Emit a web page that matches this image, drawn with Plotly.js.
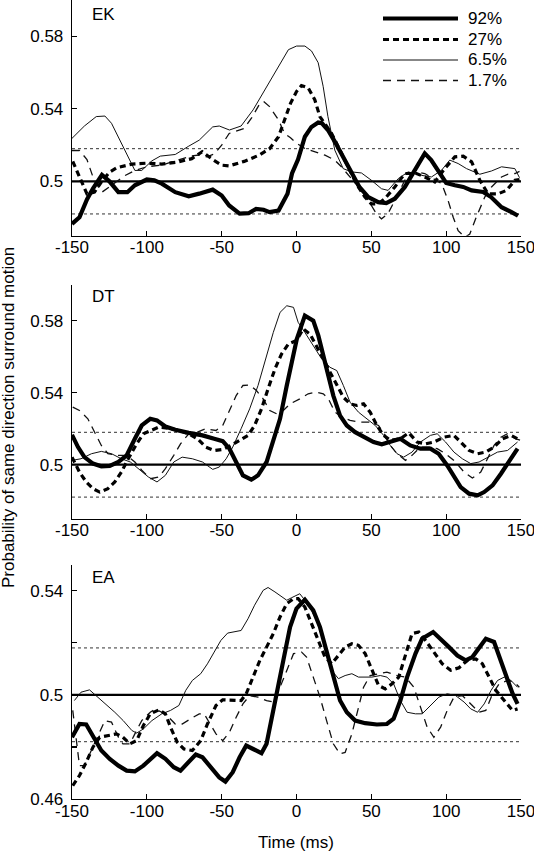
<!DOCTYPE html>
<html>
<head>
<meta charset="utf-8">
<script src="https://cdn.plot.ly/plotly-3.0.1.min.js"></script>
<style>
  html, body { margin: 0; padding: 0; background: #fff; }
  #chart { width: 534px; height: 852px; }
</style>
</head>
<body>
<div id="chart"></div>
<script>
// ---------- DATA (time in ms, probability) ----------
const seriesNames = ['92%', '27%', '6.5%', '1.7%'];
const panelNames = ['EK', 'DT', 'EA'];
const xTicks = [-150, -100, -50, 0, 50, 100, 150];
const refCenter = 0.5;
const refBand = [0.482, 0.518];

// EK
const ek92 = [[-150,0.4765],[-145,0.4802],[-140,0.490],[-136,0.496],[-130,0.5035],[-125,0.500],[-119,0.494],[-113,0.494],[-108,0.4978],[-100,0.501],[-95,0.5005],[-90,0.4987],[-81,0.494],[-72,0.4917],[-65,0.4932],[-56,0.4954],[-50,0.4922],[-45,0.4867],[-38,0.4822],[-32,0.4824],[-27,0.4848],[-22,0.4843],[-18,0.483],[-12,0.4839],[-6,0.4932],[-3,0.5043],[1,0.512],[5.6,0.5246],[10,0.530],[14.5,0.5324],[17,0.532],[21,0.5283],[25.6,0.5219],[31,0.5135],[36.7,0.5043],[42,0.4969],[48,0.4913],[54.6,0.4885],[60,0.488],[65.7,0.4904],[72.4,0.4969],[79,0.5061],[85.7,0.5154],[90,0.5117],[95.8,0.5043],[100,0.4991],[105.8,0.4978],[111.4,0.4969],[117,0.495],[124.7,0.4941],[130,0.4913],[137,0.4857],[143.7,0.483],[148,0.481]];
const ek27 = [[-149.5,0.511],[-145,0.502],[-140,0.493],[-135,0.494],[-130,0.500],[-125,0.505],[-120,0.5075],[-110,0.5095],[-100,0.510],[-90,0.5095],[-80,0.5105],[-70,0.5125],[-63,0.5163],[-56,0.512],[-50,0.5089],[-45,0.5085],[-35,0.511],[-25,0.5144],[-18,0.518],[-12,0.5246],[-8,0.5338],[-4,0.543],[0,0.5495],[3.3,0.5528],[7.8,0.5515],[12.2,0.545],[15.6,0.5357],[18.9,0.532],[23.4,0.5265],[29,0.5172],[34.5,0.508],[40,0.4987],[45.7,0.4913],[50,0.4876],[54.6,0.4876],[59,0.4904],[65.7,0.4969],[72.4,0.5043],[80.2,0.5043],[85.7,0.5024],[92.4,0.4996],[99,0.507],[105.8,0.5135],[111.4,0.5139],[117,0.5107],[122.5,0.5006],[128,0.4931],[134.7,0.4931],[140.3,0.495],[146,0.5006],[149,0.501]];
const ek65 = [[-150,0.5237],[-141.7,0.5305],[-133.8,0.5357],[-128,0.536],[-123.6,0.532],[-117,0.5209],[-111.3,0.5107],[-108,0.506],[-103.4,0.506],[-96.6,0.5113],[-91,0.5139],[-81,0.5148],[-72,0.5194],[-65,0.5227],[-56,0.530],[-51.6,0.5305],[-44.8,0.5283],[-37,0.5305],[-29,0.5394],[-20,0.5523],[-11,0.5652],[-5.4,0.5726],[0,0.5746],[5.6,0.5746],[10,0.5719],[14.5,0.5654],[17.8,0.5524],[21,0.5357],[25.6,0.5172],[31.2,0.507],[36.7,0.5052],[43.4,0.5046],[50,0.5006],[56.8,0.4959],[61.2,0.495],[68,0.5015],[74.6,0.5052],[83.5,0.5033],[90.2,0.5024],[96.9,0.5061],[102.4,0.5117],[108,0.5098],[113.6,0.507],[122.5,0.5039],[130.3,0.5057],[137,0.508],[145.9,0.507],[149,0.502]];
const ek17 = [[-150,0.517],[-145,0.517],[-140,0.512],[-135,0.500],[-130,0.494],[-125,0.497],[-120,0.500],[-115,0.503],[-108,0.506],[-100,0.508],[-90,0.509],[-80,0.5115],[-70,0.514],[-65,0.5145],[-60,0.5135],[-55,0.515],[-50,0.520],[-45,0.5264],[-40,0.528],[-35,0.5292],[-30,0.535],[-25,0.5421],[-22,0.544],[-18,0.5412],[-12,0.5338],[-8,0.5264],[-4,0.524],[0,0.521],[5.6,0.5181],[12.2,0.5163],[19,0.5144],[25.6,0.5117],[30,0.508],[36.7,0.5015],[43.4,0.495],[48,0.4894],[53.5,0.482],[56.8,0.4793],[61,0.482],[65.7,0.4894],[70,0.4969],[74.6,0.5043],[80,0.5052],[85.7,0.5043],[91.3,0.5015],[97,0.4987],[101.3,0.4894],[104.7,0.4802],[108,0.4728],[112.5,0.4691],[115.8,0.4709],[120,0.480],[125.8,0.4913],[130.3,0.4969],[137,0.5024],[141.4,0.5039],[146,0.5043],[149,0.5055]];

// DT
const dt92 = [[-150,0.5166],[-146,0.5098],[-141.7,0.5042],[-136,0.5006],[-130.4,0.4991],[-124.8,0.4993],[-119,0.5015],[-113.5,0.5052],[-108,0.5144],[-103.4,0.5218],[-97.7,0.5255],[-93.2,0.5246],[-87.6,0.5212],[-81,0.5194],[-72,0.5177],[-62.8,0.5163],[-55,0.5144],[-49.3,0.5131],[-44.8,0.5089],[-40.3,0.5015],[-35.8,0.4941],[-30.2,0.4917],[-25.7,0.4941],[-20,0.5015],[-15.5,0.5126],[-11,0.5255],[-6.5,0.544],[-3.2,0.5569],[0.2,0.5698],[5.6,0.5828],[11.2,0.58],[14.6,0.5717],[17.9,0.5606],[21.3,0.5495],[24.6,0.5384],[29.1,0.5273],[33.6,0.5218],[39.2,0.5181],[44.8,0.5153],[51.5,0.5126],[57,0.5113],[62.7,0.5126],[69.4,0.5144],[76,0.5107],[82.8,0.5089],[89.5,0.5089],[95,0.5061],[100.7,0.4996],[105.2,0.4932],[109.7,0.4876],[115.3,0.4839],[121,0.483],[125.4,0.4848],[131,0.4885],[136.6,0.495],[142.2,0.5024],[147.7,0.5089]];
const dt27 = [[-150,0.5042],[-145,0.4959],[-140.5,0.4904],[-136,0.4867],[-131.5,0.4848],[-126,0.4867],[-121.4,0.4904],[-117,0.4959],[-112.4,0.5033],[-106.8,0.5116],[-102.3,0.5172],[-97.7,0.519],[-92,0.5209],[-85.4,0.5203],[-78.6,0.519],[-72,0.5172],[-66.2,0.5144],[-60.6,0.5098],[-55,0.5079],[-49.3,0.5085],[-43.7,0.5107],[-38,0.5135],[-32.4,0.5163],[-28,0.5218],[-23.4,0.531],[-19,0.5421],[-14.4,0.5532],[-10,0.5615],[-5.4,0.5671],[0,0.569],[4.5,0.5754],[9,0.5726],[13.4,0.5661],[17.9,0.5588],[22.4,0.5514],[26.9,0.544],[31.3,0.5375],[35.8,0.5338],[40.3,0.5329],[44.8,0.5338],[49.2,0.5292],[53.7,0.5218],[58.2,0.5163],[62.7,0.5135],[69.4,0.5144],[75,0.5177],[80.6,0.5126],[86.2,0.5116],[91.8,0.5126],[98.5,0.5153],[105.2,0.5163],[109.7,0.5126],[115.3,0.5079],[121,0.5061],[126.5,0.507],[132,0.5098],[137.7,0.5144],[143.2,0.5163],[147.7,0.5144]];
const dt65 = [[-150,0.5024],[-144,0.5033],[-137,0.5061],[-130.4,0.5074],[-123.6,0.5061],[-117,0.5033],[-111,0.5015],[-105.6,0.4978],[-99,0.4932],[-93.2,0.4904],[-87.6,0.4941],[-82,0.5015],[-76.4,0.5042],[-69.6,0.5033],[-62.8,0.5015],[-56,0.4974],[-51.6,0.4987],[-47,0.5033],[-42.6,0.5098],[-37,0.52],[-31.3,0.531],[-25.7,0.544],[-20,0.5606],[-15.5,0.5735],[-11,0.5846],[-6.5,0.5883],[-2,0.5874],[1.1,0.5791],[5.6,0.5735],[11.2,0.5661],[16.8,0.5588],[22.4,0.5541],[26.9,0.5523],[31.3,0.544],[35.8,0.5347],[41.4,0.5292],[47,0.5255],[52.6,0.5218],[58.2,0.5163],[62.7,0.5107],[67.2,0.5061],[71.6,0.5042],[77.2,0.507],[82.8,0.5126],[89.5,0.5163],[94,0.5172],[99.6,0.5126],[105.2,0.507],[110.8,0.5033],[116.4,0.5006],[122,0.5015],[127.6,0.5042],[134.3,0.507],[141,0.5079],[147.7,0.5126]];
const dt17 = [[-149.5,0.532],[-145,0.5301],[-139.4,0.5255],[-135,0.5181],[-130.4,0.5107],[-126,0.5061],[-119,0.5052],[-113.5,0.5052],[-108,0.5015],[-103.4,0.4969],[-97.7,0.4922],[-92,0.4932],[-87.6,0.4978],[-82,0.5052],[-77.5,0.5116],[-72,0.5172],[-66.2,0.5181],[-60.6,0.520],[-53.8,0.519],[-49.3,0.5218],[-44.8,0.5301],[-40.3,0.5384],[-35.8,0.544],[-31.3,0.5443],[-26.8,0.5412],[-22.3,0.5366],[-17.8,0.5301],[-13.3,0.5283],[-8.8,0.5301],[-4.3,0.5338],[2.2,0.5366],[7.8,0.5394],[13.4,0.5403],[17.9,0.5394],[21.3,0.5366],[25.7,0.5292],[30.2,0.5264],[35.8,0.5246],[42.5,0.5237],[49.2,0.5237],[54.8,0.5218],[59.3,0.5163],[62.7,0.5107],[67.2,0.5061],[72.8,0.5024],[77.2,0.5052],[82.8,0.5098],[88.4,0.5098],[94,0.5089],[99.6,0.5061],[105.2,0.5024],[112,0.4959],[117.5,0.4926],[123.1,0.4959],[127.6,0.5033],[132,0.5107],[136.6,0.5153],[141,0.5172],[146.6,0.5144],[150,0.5135]];

// EA
const ea92 = [[-150,0.4837],[-145,0.4888],[-140.5,0.4886],[-136,0.4844],[-130.4,0.4786],[-124.8,0.4754],[-119,0.4728],[-113.5,0.4709],[-108,0.4706],[-102.3,0.4728],[-97.7,0.4754],[-93.2,0.4776],[-87.6,0.4754],[-82,0.4722],[-77.5,0.4709],[-72,0.4741],[-67.3,0.4771],[-62.8,0.476],[-57.2,0.4722],[-51.6,0.4683],[-47.5,0.4667],[-42.6,0.4703],[-38,0.476],[-33.6,0.4805],[-29,0.4792],[-23.4,0.4776],[-20,0.4812],[-16.7,0.4901],[-13.3,0.5004],[-8.8,0.5132],[-4.3,0.526],[0,0.5331],[5.6,0.5365],[11.2,0.5324],[15.7,0.526],[20.1,0.517],[24.6,0.5081],[29.1,0.4978],[33.6,0.4933],[39.2,0.4901],[45.9,0.4891],[53.7,0.4886],[60.4,0.4888],[64.9,0.4908],[69.4,0.4978],[73.9,0.5068],[79.5,0.5158],[83.9,0.5215],[91.3,0.5241],[96.3,0.5215],[101.9,0.5183],[107.5,0.5151],[113,0.5132],[117.5,0.5145],[122,0.5183],[126.5,0.5215],[132,0.5203],[136.6,0.5132],[141,0.5055],[144.4,0.5004],[147.7,0.4965]];
const ea27 = [[-149.5,0.4651],[-145,0.469],[-140.5,0.4741],[-136,0.4799],[-131.5,0.4837],[-126,0.4844],[-120.3,0.485],[-116,0.4837],[-111.3,0.4812],[-106.8,0.4824],[-102.3,0.4882],[-97.7,0.4927],[-92,0.4942],[-87.6,0.4927],[-84.2,0.4876],[-79.7,0.4818],[-75.2,0.4792],[-69.6,0.4786],[-64,0.4824],[-59.5,0.4888],[-53.8,0.4959],[-49.3,0.4981],[-42.6,0.4978],[-37,0.4978],[-33.6,0.5004],[-29,0.5068],[-24.5,0.5132],[-20,0.5183],[-15.5,0.5235],[-11,0.5299],[-6.5,0.535],[-2,0.5369],[1.1,0.5369],[5.6,0.5337],[10,0.5273],[14.6,0.5209],[19,0.5145],[23.5,0.5119],[28,0.5151],[32.5,0.5183],[37,0.5196],[41.4,0.519],[45.9,0.5158],[50.4,0.5094],[54.8,0.5036],[59.3,0.5023],[63.8,0.5042],[68.3,0.5068],[72.8,0.5158],[77.2,0.5235],[81.7,0.5241],[86.2,0.5209],[91.8,0.5164],[97.4,0.5119],[103,0.5094],[108.6,0.5104],[114.2,0.5132],[119.8,0.5138],[124.2,0.5119],[128.7,0.5068],[133.2,0.5017],[138.8,0.4978],[144.4,0.494],[147.7,0.4946]];
const ea65 = [[-148.4,0.4978],[-144,0.501],[-138.3,0.5019],[-132.7,0.4991],[-127,0.4959],[-121.4,0.4933],[-115.8,0.4901],[-110,0.4863],[-106.8,0.4853],[-102.3,0.4869],[-96.6,0.4901],[-90,0.4927],[-84.2,0.494],[-78.6,0.4959],[-74,0.5017],[-69.6,0.5055],[-64,0.5081],[-59.5,0.5119],[-55,0.5164],[-50.5,0.5209],[-46,0.5237],[-41.4,0.5241],[-37,0.5247],[-32.4,0.5292],[-28,0.5344],[-22.3,0.5401],[-19,0.5412],[-14.4,0.5395],[-10,0.5376],[-6.5,0.5363],[-3.2,0.5373],[2.2,0.5388],[5.6,0.5363],[10,0.5324],[14.6,0.5273],[19,0.519],[23.5,0.5094],[28,0.5062],[32.5,0.5074],[37,0.5081],[41.4,0.5068],[45.9,0.5068],[50.4,0.5068],[56,0.5074],[60.4,0.5068],[64.9,0.5042],[69.4,0.4978],[73.9,0.4933],[79.5,0.4927],[84,0.4927],[89.5,0.4959],[95.1,0.4991],[100.7,0.5004],[106.3,0.4997],[112,0.4972],[116.4,0.4946],[121,0.4933],[125.4,0.4965],[130,0.5017],[134.3,0.5055],[138.8,0.5068],[143.3,0.5055],[147.7,0.5029]];
const ea17 = [[-149.5,0.494],[-145,0.4728],[-141.7,0.4728],[-137,0.4786],[-132.7,0.4837],[-128,0.4901],[-123.6,0.4895],[-119,0.4837],[-116,0.4812],[-111.3,0.4812],[-108,0.485],[-103.4,0.4901],[-97.7,0.4933],[-94.4,0.4946],[-90,0.4933],[-85.4,0.4914],[-81,0.4888],[-76.4,0.4888],[-70.7,0.4908],[-65,0.4927],[-61.7,0.4927],[-58.3,0.4895],[-53.8,0.485],[-49.3,0.4824],[-44.8,0.4856],[-40.3,0.4914],[-35.8,0.4965],[-31.3,0.4997],[-25.7,0.4991],[-20,0.4978],[-15.5,0.4972],[-11,0.5029],[-6.5,0.5094],[-2,0.5158],[3.4,0.5164],[6.7,0.5145],[11.2,0.5068],[15.7,0.4991],[20.1,0.4901],[24.6,0.4812],[29.1,0.4773],[32.5,0.4779],[37,0.485],[40.3,0.4927],[44.8,0.5029],[49.2,0.5074],[54.8,0.5081],[60.4,0.5087],[67.2,0.5074],[72.8,0.5068],[78.4,0.5029],[82.8,0.4953],[87.3,0.4876],[91.8,0.4837],[96.3,0.4876],[100.7,0.494],[105.2,0.4991],[110.8,0.4997],[116.4,0.4965],[122,0.4933],[126.5,0.494],[131,0.5004],[135.4,0.5042],[141,0.5055],[145.5,0.5049],[148.9,0.5029]];

const panelSeries = [
  [ek92, ek27, ek65, ek17],
  [dt92, dt27, dt65, dt17],
  [ea92, ea27, ea65, ea17]
];

// ---------- STYLE ----------
const FONT = 'Liberation Sans, Arial, Helvetica, sans-serif';
const lineStyles = [
  {color: '#000', width: 4.2, dash: 'solid'},
  {color: '#000', width: 3.2, dash: '6px,4px'},
  {color: '#111', width: 1.0, dash: 'solid'},
  {color: '#111', width: 1.3, dash: '8px,6px'}
];
const drawOrder = [3, 2, 1, 0];

const W = 534, H = 852;
const M = {l: 72, r: 13, t: 0, b: 53};
const plotH = H - M.t - M.b;   // 799
const plotW = W - M.l - M.r;   // 449
const yDomains = [[0.705, 1.0], [0.3508, 0.6437], [0.0, 0.2934]];
const yRanges = [[0.47, 0.60], [0.47, 0.60], [0.46, 0.55]];
const yTickVals = [[0.5, 0.54, 0.58], [0.5, 0.54, 0.58], [0.46, 0.48, 0.5, 0.52, 0.54]];
const yTickText = [['0.5', '0.54', '0.58'], ['0.5', '0.54', '0.58'], ['0.46', '', '0.5', '', '0.54']];

const px2x = p => (p - M.l) / plotW;
const py2y = p => (plotH - (p - M.t)) / plotH;

const traces = [];
const shapes = [];
const annotations = [];
const layout = {
  width: W, height: H,
  margin: M,
  paper_bgcolor: '#fff', plot_bgcolor: 'rgba(0,0,0,0)',
  showlegend: false,
  font: {family: FONT, size: 17, color: '#000'}
};

panelSeries.forEach((series, i) => {
  const sx = i === 0 ? '' : String(i + 1);
  const xa = 'x' + sx, ya = 'y' + sx;
  drawOrder.forEach(k => {
    const pts = series[k];
    const st = lineStyles[k];
    traces.push({
      type: 'scatter', mode: 'lines',
      x: pts.map(p => p[0]), y: pts.map(p => p[1]),
      xaxis: xa, yaxis: ya,
      name: seriesNames[k],
      line: {color: st.color, width: st.width, dash: st.dash, shape: 'linear'},
      hoverinfo: 'skip'
    });
  });
  layout['xaxis' + sx] = {
    domain: [0, 1], anchor: ya, range: [xTicks[0], xTicks[xTicks.length - 1]],
    tickmode: 'array', tickvals: xTicks, ticktext: xTicks.map(String),
    showline: true, linecolor: '#000', linewidth: 1.3,
    ticks: 'inside', ticklen: 5, tickwidth: 1.3, tickcolor: '#000',
    ticklabeloverflow: 'allow', ticklabelstandoff: -4,
    showgrid: false, zeroline: false, fixedrange: true,
    tickfont: {family: FONT, size: 17, color: '#000'}
  };
  layout['yaxis' + sx] = {
    domain: yDomains[i], anchor: xa, range: yRanges[i],
    tickmode: 'array', tickvals: yTickVals[i], ticktext: yTickText[i],
    showline: true, linecolor: '#000', linewidth: 1.3,
    ticks: 'inside', ticklen: 5, tickwidth: 1.3, tickcolor: '#000',
    ticklabeloverflow: 'allow', ticklabelstandoff: 4,
    showgrid: false, zeroline: false, fixedrange: true,
    tickfont: {family: FONT, size: 17, color: '#000'}
  };
  // reference lines
  refBand.forEach(v => shapes.push({
    type: 'line', xref: xa, yref: ya, x0: xTicks[0], x1: xTicks[xTicks.length - 1], y0: v, y1: v,
    line: {color: '#333', width: 1, dash: '3px,3px'}, layer: 'below'
  }));
  shapes.push({
    type: 'line', xref: xa, yref: ya, x0: xTicks[0], x1: xTicks[xTicks.length - 1], y0: refCenter, y1: refCenter,
    line: {color: '#000', width: 2.2}, layer: 'below'
  });
  // panel label
  const labelY = [14, 296, 577.5][i];
  annotations.push({
    text: panelNames[i], xref: 'paper', yref: 'paper',
    x: px2x(90), y: py2y(labelY), xanchor: 'left', yanchor: 'middle',
    showarrow: false, font: {family: FONT, size: 17, color: '#000'}
  });
});

// legend (top panel)
const legRows = [18.5, 39.5, 60, 80.5];
seriesNames.forEach((name, k) => {
  const st = lineStyles[k];
  shapes.push({
    type: 'line', xref: 'paper', yref: 'paper',
    x0: px2x(383), x1: px2x(458), y0: py2y(legRows[k]), y1: py2y(legRows[k]),
    line: {color: st.color, width: st.width, dash: st.dash}
  });
  annotations.push({
    text: name, xref: 'paper', yref: 'paper',
    x: px2x(466), y: py2y(legRows[k]), xanchor: 'left', yanchor: 'middle',
    showarrow: false, font: {family: FONT, size: 17, color: '#000'}
  });
});

// axis titles
annotations.push({
  text: 'Probability of same direction surround motion', xref: 'paper', yref: 'paper',
  x: px2x(8), y: py2y(418), xanchor: 'center', yanchor: 'middle', textangle: -90,
  showarrow: false, font: {family: FONT, size: 17, color: '#000'}
});
annotations.push({
  text: 'Time (ms)', xref: 'paper', yref: 'paper',
  x: px2x(296), y: py2y(842), xanchor: 'center', yanchor: 'middle',
  showarrow: false, font: {family: FONT, size: 17, color: '#000'}
});

layout.shapes = shapes;
layout.annotations = annotations;

Plotly.newPlot('chart', traces, layout, {displayModeBar: false, staticPlot: true});
</script>
</body>
</html>
